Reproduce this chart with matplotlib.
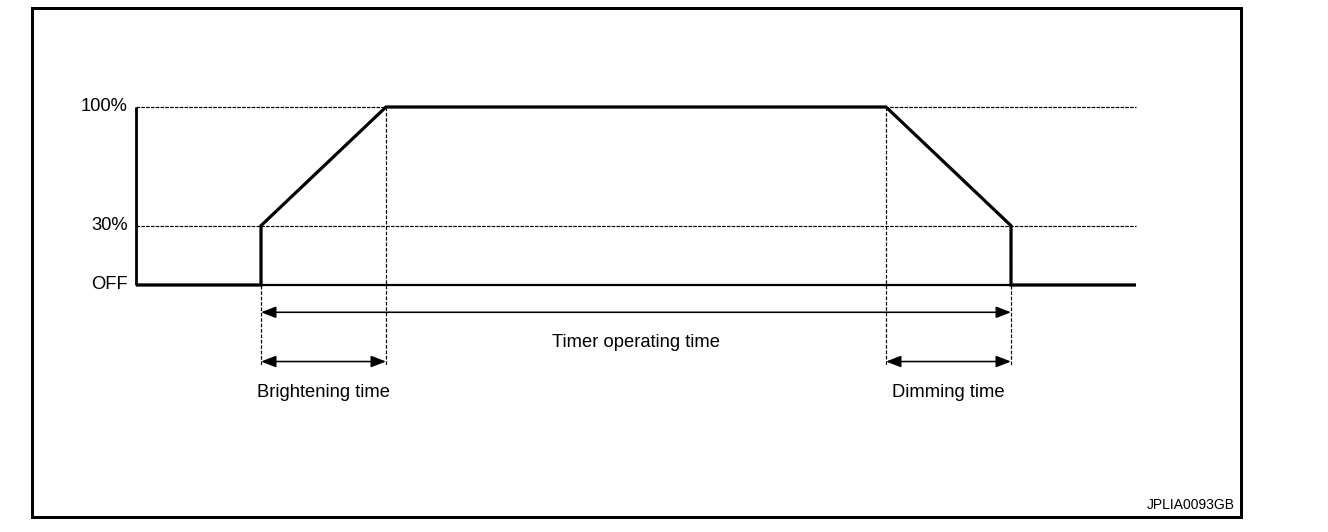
import matplotlib.pyplot as plt
from matplotlib.patches import Rectangle

plt.rcParams['font.family'] = ['Liberation Sans', 'DejaVu Sans']

# level positions on the schematic axis (not to scale)
level_labels = ['OFF', '30%', '100%']
level_pos = [0, 1, 3]

# lamp output over time (time in arbitrary units)
sig_t = [0, 1, 1, 2, 6, 7, 7, 8]
sig_y = [0, 0, 1, 3, 3, 1, 0, 0]

# event times and the level where each guide line starts
event_t = [1, 2, 6, 7]
event_y = [1, 3, 3, 1]

# spans shown with double arrows
spans = [
    ('Timer operating time', 1, 7, -0.46, -0.97),
    ('Brightening time', 1, 2, -1.29, -1.81),
    ('Dimming time', 6, 7, -1.29, -1.81),
]
t_end = 8
fig_code = 'JPLIA0093GB'

fig = plt.figure(figsize=(13.28, 5.32), dpi=100)
ax = fig.add_axes([0, 0, 1, 1])
ax.set_xlim(-1.088, 9.536)
ax.set_ylim(-4.163, 4.803)
ax.axis('off')

px = 72 / 100  # points per pixel

# frame
fig.patches.append(Rectangle((32 / 1328, 1 - 517 / 532), (1241 - 32) / 1328, (517 - 8) / 532,
                             transform=fig.transFigure, fill=False, lw=3 * px, ec='black'))

# dashed guide lines
for p in level_pos[1:]:
    ax.plot([0, t_end], [p, p], color='black', lw=1.2 * px, ls=(0, (3, 1)))
for t, y in zip(event_t, event_y):
    ax.plot([t, t], [y, -1.36], color='black', lw=1.2 * px, ls=(0, (3, 1.5)))

# axes lines
ax.plot([0, 0], [0, 3], color='black', lw=2.8 * px, solid_capstyle='butt')
ax.plot([0, t_end], [0, 0], color='black', lw=2.2 * px, solid_capstyle='butt')

# signal
ax.plot(sig_t, sig_y, color='black', lw=3.2 * px, solid_joinstyle='miter', solid_capstyle='butt')

# level labels
for lab, p in zip(level_labels, level_pos):
    ax.text(-0.065, p, lab, ha='right', va='center', fontsize=13.2)

# spans
for lab, t0, t1, ya, yl in spans:
    ax.annotate('', xy=(t0, ya), xytext=(t1, ya),
                arrowprops=dict(arrowstyle='<|-|>,head_length=0.9,head_width=0.35',
                                color='black', lw=1.6 * px, shrinkA=0, shrinkB=0))
    ax.text((t0 + t1) / 2, yl, lab, ha='center', va='center', fontsize=13.2)

fig.text(1235 / 1328, 1 - 505 / 532, fig_code, ha='right', va='center', fontsize=10)

fig.savefig('out.png', dpi=100)
